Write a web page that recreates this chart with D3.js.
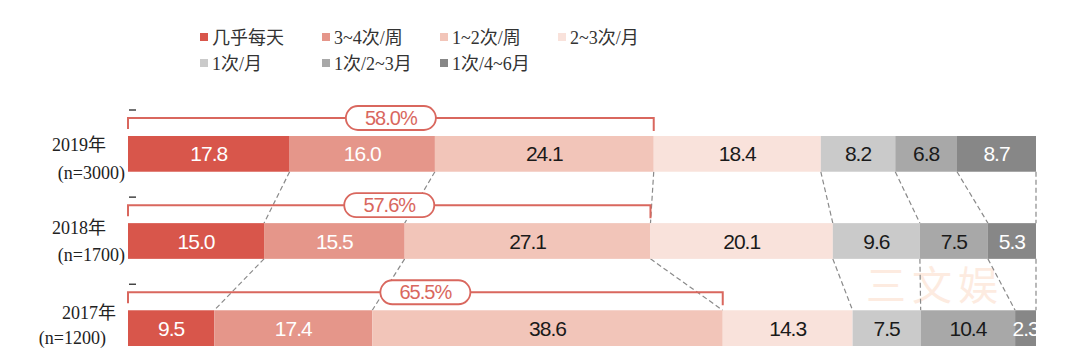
<!DOCTYPE html>
<html>
<head>
<meta charset="utf-8">
<script src="https://cdn.jsdelivr.net/npm/d3@7"></script>
<style>
  body { margin: 0; background: #fff; }
  svg { display: block; }
</style>
</head>
<body>
<div id="chart"></div>
<script>
var width = 1080,
    height = 355;

// data
var categories = ['几乎每天', '3~4次/周', '1~2次/周', '2~3次/月', '1次/月', '1次/2~3月', '1次/4~6月'];
var years = ['2019年', '2018年', '2017年'];
var samples = ['(n=3000)', '(n=1700)', '(n=1200)'];
var values2019 = [17.8, 16.0, 24.1, 18.4, 8.2, 6.8, 8.7];
var values2018 = [15.0, 15.5, 27.1, 20.1, 9.6, 7.5, 5.3];
var values2017 = [9.5, 17.4, 38.6, 14.3, 7.5, 10.4, 2.3];
var weeklyShare = ['58.0%', '57.6%', '65.5%'];

var series = [values2019, values2018, values2017];
var colors = ['#d8564b', '#e5968a', '#f2c5b9', '#f9e2db', '#cacaca', '#a8a8a8', '#878787'];
var labelColors = ['#fff', '#fff', '#1a1a1a', '#1a1a1a', '#1a1a1a', '#1a1a1a', '#fff'];
var red = '#d9675e';

// row label layout (the source image is a bit uneven)
var yearDx = [106, 106, 116], yearDy = [15, 11, 9];
var nDx = [125, 125, 106], nDy = [43, 38, 34];

var svg = d3.select('#chart')
    .append('svg')
    .attr('width', width)
    .attr('height', height);

// scales
var xscale = d3.scaleLinear()
    .domain([0, 100])
    .range([128, 1036]);

var yscale = d3.scaleBand()
    .domain(years)
    .range([136, 346])
    .paddingInner(0.59)
    .paddingOuter(0);

var barH = yscale.bandwidth();
var sans = 'Liberation Sans, Arial, sans-serif';
var serif = 'Liberation Serif, Noto Sans CJK SC, serif';

// watermark (behind everything)
svg.append('text')
    .attr('x', 935).attr('y', 300)
    .attr('text-anchor', 'middle')
    .attr('font-family', 'Noto Sans CJK SC, sans-serif')
    .attr('font-size', 40)
    .attr('fill', '#f6a06a')
    .attr('opacity', 0.2)
    .attr('letter-spacing', 6)
    .text('三文娱');

// stacked rows
var rows = series.map((vals, r) => {
    var total = d3.sum(vals);
    var acc = 0;
    return vals.map((v, i) => {
        var x0 = acc / total * 100;
        acc += v;
        return { row: r, i: i, v: v, x0: x0, x1: acc / total * 100 };
    });
});

// dashed connectors between rows
for (var r = 0; r < rows.length - 1; r++) {
    var yTop = yscale(years[r]) + barH;
    var yBot = yscale(years[r + 1]);
    svg.append('g').selectAll('line')
        .data(rows[r].map((d, i) => [d.x1, rows[r + 1][i].x1]))
        .enter()
        .append('line')
        .attr('x1', d => xscale(d[0]))
        .attr('x2', d => xscale(d[1]))
        .attr('y1', yTop)
        .attr('y2', yBot)
        .attr('stroke', '#8a8a8a')
        .attr('stroke-width', 1.2)
        .attr('stroke-dasharray', '5,3');
}

// bars
rows.forEach((row, r) => {
    var g = svg.append('g');
    var y = yscale(years[r]);
    g.selectAll('rect')
        .data(row)
        .enter()
        .append('rect')
        .attr('x', d => xscale(d.x0))
        .attr('y', y)
        .attr('width', d => xscale(d.x1) - xscale(d.x0))
        .attr('height', barH)
        .attr('fill', d => colors[d.i]);
    g.selectAll('text')
        .data(row)
        .enter()
        .append('text')
        .attr('x', d => (xscale(d.x0) + xscale(d.x1)) / 2)
        .attr('y', y + barH / 2 + 7.5)
        .attr('text-anchor', 'middle')
        .attr('font-family', sans)
        .attr('font-size', 21)
        .attr('letter-spacing', -1)
        .attr('fill', d => labelColors[d.i])
        .text(d => d.v.toFixed(1));

    // bracket for weekly share (first three categories)
    var xEnd = xscale(row[2].x1);
    var ly = y - 18;
    svg.append('path')
        .attr('d', `M${xscale(0)},${y - 7}V${ly}H${xEnd}V${y - 5}`)
        .attr('fill', 'none')
        .attr('stroke', red)
        .attr('stroke-width', 2);
    svg.append('line')
        .attr('x1', xscale(0) + 1).attr('x2', xscale(0) + 8)
        .attr('y1', ly - 8).attr('y2', ly - 8)
        .attr('stroke', '#444').attr('stroke-width', 1.5);
    var cx = (xscale(0) + xEnd) / 2;
    svg.append('rect')
        .attr('x', cx - 45).attr('y', ly - 12)
        .attr('width', 90).attr('height', 24)
        .attr('rx', 12)
        .attr('fill', '#fff')
        .attr('stroke', red)
        .attr('stroke-width', 1.8);
    svg.append('text')
        .attr('x', cx).attr('y', ly + 7)
        .attr('text-anchor', 'middle')
        .attr('font-family', sans)
        .attr('font-size', 20)
        .attr('letter-spacing', -1)
        .attr('fill', red)
        .text(weeklyShare[r]);
});

// row labels
years.forEach((yr, r) => {
    var y = yscale(yr);
    svg.append('text')
        .attr('x', yearDx[r]).attr('y', y + yearDy[r])
        .attr('text-anchor', 'end')
        .attr('font-family', serif)
        .attr('font-size', 18)
        .attr('fill', '#222')
        .text(yr);
    svg.append('text')
        .attr('x', nDx[r]).attr('y', y + nDy[r])
        .attr('text-anchor', 'end')
        .attr('font-family', serif)
        .attr('font-size', 18)
        .attr('fill', '#222')
        .text(samples[r]);
});

// legend
var legendX = [200, 322, 440, 558];
var legend = svg.append('g').selectAll('g')
    .data(categories)
    .enter()
    .append('g')
    .attr('transform', (d, i) => `translate(${legendX[i % 4]},${i < 4 ? 37 : 63})`);
legend.append('rect')
    .attr('x', 0).attr('y', -4)
    .attr('width', 8).attr('height', 8)
    .attr('fill', (d, i) => colors[i]);
legend.append('text')
    .attr('x', 12).attr('y', 6.5)
    .attr('font-family', serif)
    .attr('font-size', 18)
    .attr('fill', '#333')
    .text(d => d);
</script>
</body>
</html>
